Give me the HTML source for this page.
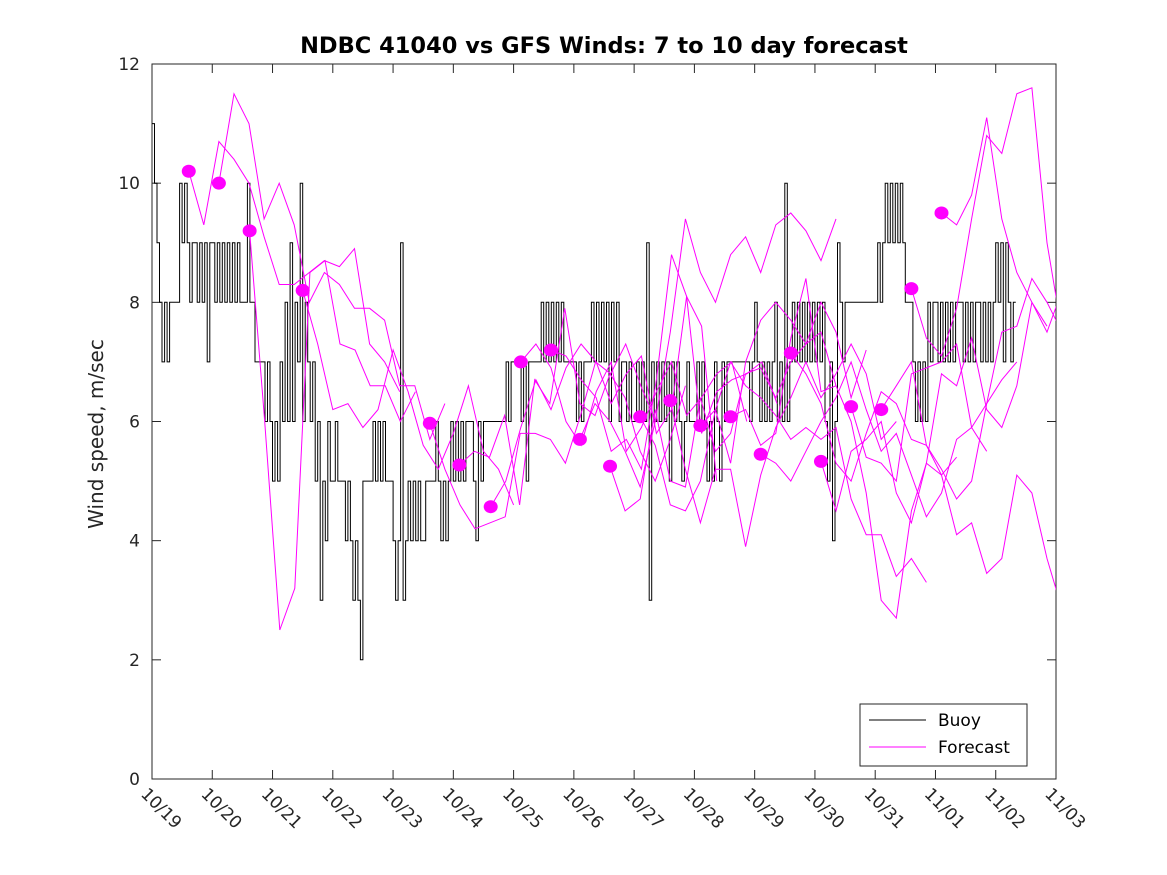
<!DOCTYPE html>
<html><head><meta charset="utf-8"><style>
body{margin:0;background:#fff}
svg{display:block;font-family:"DejaVu Sans","Liberation Sans",sans-serif}
</style></head><body>
<svg id="chart" width="1167" height="875" viewBox="0 0 1167 875" xmlns="http://www.w3.org/2000/svg">
<defs><clipPath id="plotclip"><rect x="152" y="64" width="904" height="715"/></clipPath></defs>
<rect width="1167" height="875" fill="#fff"/>
<text x="604" y="53" text-anchor="middle" font-size="22.5" font-weight="bold" fill="#000">NDBC 41040 vs GFS Winds: 7 to 10 day forecast</text>
<text transform="translate(103,434) rotate(-90)" text-anchor="middle" font-size="20" fill="#262626">Wind speed, m/sec</text>
<g id="axes"></g>
<g id="series" clip-path="url(#plotclip)"></g>
<g>
<rect x="860" y="704" width="167" height="62" fill="#fff" stroke="#262626" stroke-width="1"/>
<line x1="869" y1="720" x2="926" y2="720" stroke="#000"/>
<text x="938" y="726" font-size="17" fill="#000">Buoy</text>
<line x1="869" y1="747" x2="926" y2="747" stroke="#f0f"/>
<text x="938" y="753" font-size="17" fill="#000">Forecast</text>
</g>
</svg>
<script>
const xTickLabels=["10/19","10/20","10/21","10/22","10/23","10/24","10/25","10/26","10/27","10/28","10/29","10/30","10/31","11/01","11/02","11/03"];
const yTicks=[0,2,4,6,8,10,12];
// hourly buoy wind speed starting 10/19 00:00
const buoy=[11,10,9,8,7,8,7,8,8,8,8,10,9,10,9,8,9,9,8,9,8,9,7,9,
9,8,9,8,9,8,9,8,9,8,9,8,8,8,10,8,8,7,7,7,7,6,7,6,
5,6,5,7,6,8,6,9,6,8,7,10,6,8,7,6,7,5,6,3,5,4,6,5,
5,6,5,5,5,4,5,4,3,4,3,2,5,5,5,5,6,5,6,5,6,5,5,5,
4,3,4,9,3,4,5,4,5,4,5,4,4,5,5,5,5,6,5,4,5,4,5,6,
5,6,5,6,5,6,6,6,5,4,6,5,6,6,6,6,6,6,6,6,6,7,6,7,
7,7,7,6,7,5,7,7,7,7,7,8,7,8,7,8,7,8,7,8,7,7,7,7,
7,6,7,6,7,7,7,8,7,8,7,8,7,8,6,8,7,8,6,7,7,6,7,6,
6,7,6,7,6,9,3,7,6,7,6,7,6,7,5,7,6,7,6,5,6,7,6,6,
6,7,6,7,6,5,6,5,7,6,5,7,6,7,7,7,7,7,7,7,7,7,6,7,
8,7,6,7,6,7,6,7,8,6,7,6,10,6,7,8,7,8,7,8,7,8,7,8,
7,8,7,8,6,5,7,4,6,9,8,7,8,8,8,8,8,8,8,8,8,8,8,8,
8,9,8,9,10,9,10,9,10,9,10,9,8,8,8,7,6,7,6,7,6,8,7,8,
8,7,8,7,8,7,8,7,8,8,8,7,8,7,8,7,8,8,7,8,7,8,7,8,
9,8,9,7,9,8,7,8];
// forecast start days (offset from 10/19) and 6-hourly values
const fcStart=[0.61,1.11,1.62,2.5,4.61,5.1,5.62,6.12,6.62,7.1,7.6,8.1,8.6,9.1,9.6,10.1,10.6,11.1,11.6,12.1,12.6,13.1];
const fcVals=[
[10.2,9.3,10.7,10.4,10.0,9.1,8.3,8.3,8.5,8.7,8.6,8.9,7.3,7.0,6.5],
[10.0,11.5,11.0,9.4,10.0,9.3,8.0,8.5,8.3,7.9,7.9,7.7,6.6,6.6,5.7,6.3],
[9.2,6.0,2.5,3.2,8.5,8.7,7.3,7.2,6.6,6.6,6.0,6.5],
[8.2,7.3,6.2,6.3,5.9,6.2,7.2,6.5,5.6,5.2,5.8,6.6,5.5,5.2,4.6],
[5.97,5.2,4.6,4.2,4.3,4.4,5.8,5.8,5.7,5.3,6.1,7.0,6.8,7.3,6.6,6.0],
[5.27,5.5,5.4,6.1,4.6,6.7,6.3,7.9,6.3,6.1,6.8,6.4,5.5,5.0,5.7,6.6],
[4.57,5.0,5.9,6.7,6.2,6.9,7.3,7.0,6.3,6.8,7.1,5.8,6.2,8.1,7.6,5.0],
[7.0,7.3,6.9,6.0,5.6,6.5,7.0,5.5,5.9,6.5,7.0,6.1,6.4,6.8,7.0,6.0],
[7.2,7.1,6.7,6.4,5.5,5.7,5.2,6.7,8.8,8.1,5.8,6.5,6.7,6.8,7.0,6.3],
[5.7,6.3,6.0,5.5,4.9,6.0,7.5,9.4,8.5,8.0,8.8,9.1,8.5,9.3,9.5,9.2,8.7,9.4],
[5.25,4.5,4.7,6.2,5.0,4.9,6.4,5.5,5.8,6.8,6.9,6.4,7.0,7.3,7.5,6.6],
[6.08,5.6,4.6,4.5,5.0,6.2,5.3,7.0,7.7,8.0,7.7,7.3,8.0,7.5,6.4,7.2],
[6.35,5.2,4.3,5.2,5.2,3.9,5.1,5.9,6.4,7.0,6.4,6.8,7.3,6.8,5.7,6.0],
[5.93,6.2,7.0,6.6,6.4,6.1,5.7,5.9,5.7,5.9,4.7,4.1,4.1,3.4,3.7,3.3],
[6.08,6.2,5.6,5.8,7.4,8.4,6.5,6.6,6.0,4.8,3.0,2.7,4.5,5.3,5.1,5.4],
[5.45,5.3,5.0,5.5,6.0,6.4,7.0,6.2,5.5,5.8,5.1,4.4,4.8,5.7,5.9,5.5],
[7.15,6.8,6.3,5.3,5.0,5.8,6.5,6.3,5.7,5.6,5.2,4.7,5.0,6.3,6.7,7.0],
[5.33,4.5,5.5,5.7,6.0,4.8,4.3,5.3,6.8,6.6,7.4,6.2,5.9,6.6,8.0,7.6],
[6.25,5.4,5.3,5.0,6.8,6.9,7.0,7.3,5.9,6.3,7.5,7.6,8.4,8.0,7.5,9.8,9.2],
[6.2,6.6,7.0,5.6,5.1,4.1,4.3,3.45,3.7,5.1,4.8,3.7,2.85,2.1,3.7],
[8.23,7.4,7.1,7.9,9.4,10.8,10.5,11.5,11.6,9.0,7.5,7.0,7.5,8.3,8.5,8.0,7.9,9.4],
[9.5,9.3,9.8,11.1,9.4,8.5,8.0,7.5,8.2,8.5,9.2,10.0,9.2,9.5,9.2]
];
const L=152,R=1056,T=64,B=779,NS="http://www.w3.org/2000/svg";
const xs=d=>L+(R-L)*d/15, ys=v=>B-(B-T)*v/12;
function mk(tag,attrs,parent){const e=document.createElementNS(NS,tag);for(const k in attrs)e.setAttribute(k,attrs[k]);parent.appendChild(e);return e;}
const ax=document.getElementById('axes'), sr=document.getElementById('series');
const frame=mk('rect',{x:L,y:T,width:R-L,height:B-T,fill:'none',stroke:'#262626','stroke-width':1},ax);


yTicks.forEach(v=>{
 const y=ys(v);
 mk('line',{x1:L,y1:y,x2:L+9,y2:y,stroke:'#262626'},ax);
 mk('line',{x1:R,y1:y,x2:R-9,y2:y,stroke:'#262626'},ax);
 const t=mk('text',{x:L-12,y:y+6,'text-anchor':'end','font-size':17,fill:'#262626'},ax);
 t.textContent=v;
 
 
});
xTickLabels.forEach((s,i)=>{
 const x=xs(i);
 mk('line',{x1:x,y1:B,x2:x,y2:B-9,stroke:'#262626'},ax);
 mk('line',{x1:x,y1:T,x2:x,y2:T+9,stroke:'#262626'},ax);
 const t=mk('text',{transform:`translate(${x-12},${B+16}) rotate(45)`,'font-size':17,fill:'#262626'},ax);
 t.textContent=s;
 
 
});
let d='';
buoy.forEach((v,i)=>{const x0=xs(i/24),x1=xs((i+1)/24),y=ys(v);d+=(i?'L':'M')+x0.toFixed(1)+','+y.toFixed(1)+'L'+x1.toFixed(1)+','+y.toFixed(1);});
const bp=mk('path',{d:d,fill:'none',stroke:'#000','stroke-width':1},sr);


fcVals.forEach((arr,j)=>{
 const pts=arr.map((v,i)=>xs(fcStart[j]+i*0.25).toFixed(1)+','+ys(v).toFixed(1)).join(' ');
 const pl=mk('polyline',{points:pts,fill:'none',stroke:'#f0f','stroke-width':1},sr);
 
 
});
fcVals.forEach((arr,j)=>{
 const c=mk('ellipse',{cx:xs(fcStart[j]),cy:ys(arr[0]),rx:7,ry:6.5,fill:'#f0f'},sr);
 
 
});
</script>
</body></html>
